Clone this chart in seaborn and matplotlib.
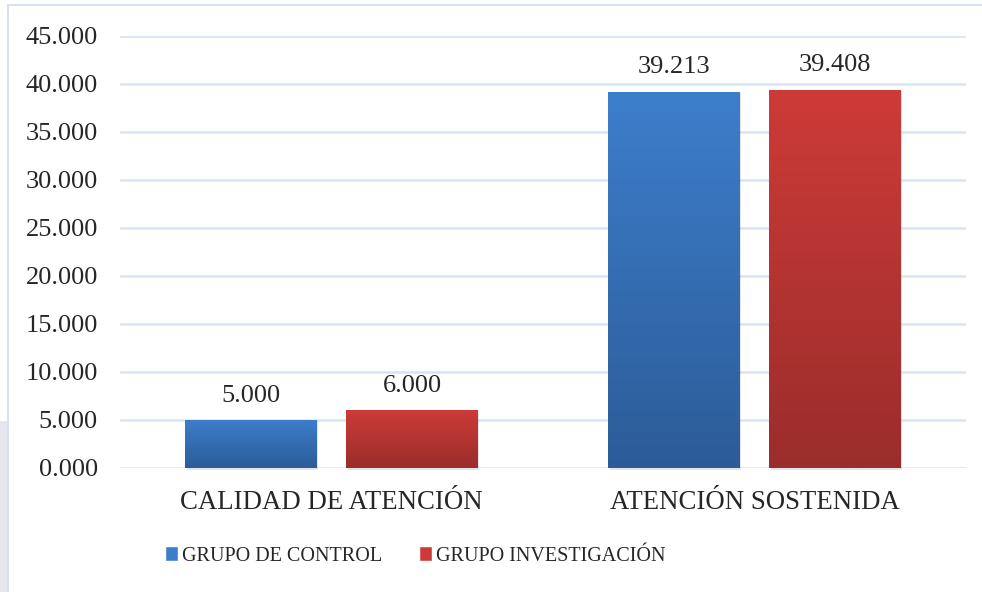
import numpy as np
import pandas as pd
import seaborn as sns
import matplotlib.pyplot as plt
from matplotlib.colors import LinearSegmentedColormap
from matplotlib.patches import Rectangle

# Data
categorias = ['CALIDAD DE ATENCIÓN', 'ATENCIÓN SOSTENIDA']
grupos = ['GRUPO DE CONTROL', 'GRUPO INVESTIGACIÓN']
control = [5.000, 39.213]
investigacion = [6.000, 39.408]

df = pd.DataFrame({
    'categoria': categorias * 2,
    'grupo': [grupos[0]] * 2 + [grupos[1]] * 2,
    'valor': control + investigacion,
})

# colores: arriba / abajo del degradado
top_colors = {grupos[0]: '#3D7ECB', grupos[1]: '#CD3B38'}
bottom_colors = {grupos[0]: '#2C5C98', grupos[1]: '#9A2D2B'}

sns.set_style('white')
plt.rcParams['font.family'] = ['Liberation Serif', 'DejaVu Serif']

fig = plt.figure(figsize=(9.82, 5.92), dpi=100)
ax = fig.add_axes([120 / 982, 1 - 468 / 592, 846 / 982, 432 / 592])

sns.barplot(data=df, x='categoria', y='valor', hue='grupo', order=categorias,
            hue_order=grupos, palette=top_colors, width=0.762, gap=0.186,
            ax=ax, legend=False)

ax.set_ylim(0, 45)
ax.set_xlim(-0.5, 1.5)
ax.set_yticks(np.arange(0, 45.1, 5))
ax.set_yticklabels([f'{v:.3f}' for v in np.arange(0, 45.1, 5)])
ax.yaxis.grid(True, color='#D9E4F2', linewidth=1.8)
ax.set_axisbelow(True)
for s in ax.spines.values():
    s.set_visible(False)
ax.tick_params(axis='y', labelsize=19, pad=16, length=0)
ax.tick_params(axis='x', labelsize=19.3, pad=16, length=0)
ax.set_xlabel('')
ax.set_ylabel('')

# degradado vertical en cada barra
for bars, g in zip(ax.containers, grupos):
    cmap = LinearSegmentedColormap.from_list(g, [bottom_colors[g], top_colors[g]])
    for p in bars:
        x0, y0 = p.get_x(), p.get_y()
        w, h = p.get_width(), p.get_height()
        # sombra suave
        sh = Rectangle((x0 + 0.004, y0 - 0.25), w, h + 0.1, color='#000000',
                       alpha=0.1, zorder=1.5, linewidth=0, clip_on=False)
        ax.add_patch(sh)
        grad = np.linspace(0, 1, 256).reshape(-1, 1)
        im = ax.imshow(grad, cmap=cmap, origin='lower', aspect='auto',
                       extent=[x0, x0 + w, y0, y0 + h], zorder=2)
        im.set_clip_path(p)
        p.set_alpha(0)
    ax.bar_label(bars, labels=[f'{v:.3f}' for v in bars.datavalues],
                 padding=9.5, fontsize=19)

ax.set_ylim(0, 45)
ax.set_xlim(-0.5, 1.5)

# leyenda
handles = [Rectangle((0, 0), 1, 1, facecolor=top_colors[g]) for g in grupos]
fig.legend(handles, grupos, loc='center', bbox_to_anchor=(415 / 982, 1 - 556 / 592),
           ncol=2, frameon=False, fontsize=14.5, handlelength=0.65, handleheight=0.75,
           handletextpad=0.2, columnspacing=1.84)

# borde del grafico y franja gris
fig.patches.append(Rectangle((0, 0), 7 / 982, 171 / 592, transform=fig.transFigure,
                             facecolor='#E6E7EE', edgecolor='none'))
fig.patches.append(Rectangle((8 / 982, -0.01), 1.1, 1 - 5 / 592 + 0.01,
                             transform=fig.transFigure, facecolor='none',
                             edgecolor='#D6E2F2', linewidth=1.5))

plt.savefig('out.png', dpi=100)
